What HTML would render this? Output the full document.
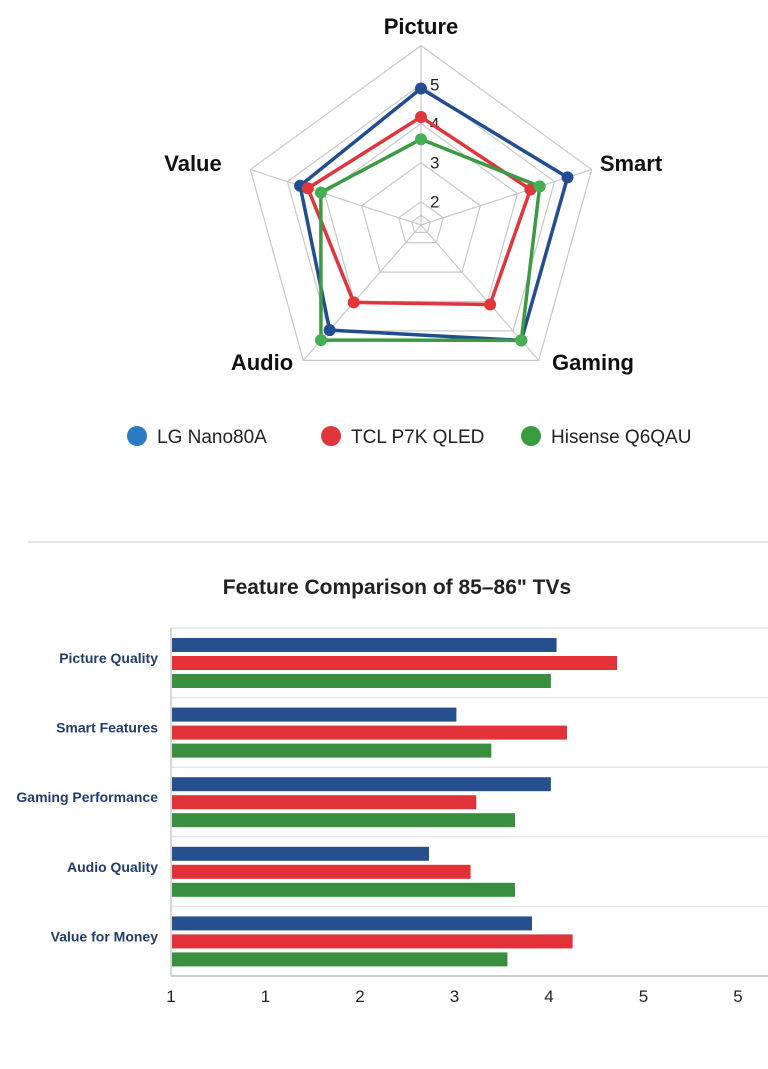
<!DOCTYPE html>
<html><head><meta charset="utf-8">
<style>
html,body{margin:0;padding:0;background:#fff;}
body{width:768px;height:1069px;overflow:hidden;font-family:"Liberation Sans","DejaVu Sans",sans-serif;}
svg{position:absolute;left:0;top:0;}
</style></head>
<body>
<svg id="chart" width="768" height="1069" viewBox="0 0 768 1069" xmlns="http://www.w3.org/2000/svg"></svg>
<script>
// ---------- Radar data ----------
const radarAxes = ["Picture","Smart","Gaming","Audio","Value"];
const radarRingValues = [2,3,4,5,6];
const radarRingLabels = ["2","3","4","5",""];
const lgValues = [4.9,5.35,5.32,4.97,4.66];
const tclValues = [4.17,4.35,4.1,4.03,4.45];
const hisenseValues = [3.6,4.6,5.32,5.31,4.1];
const seriesNames = ["LG Nano80A","TCL P7K QLED","Hisense Q6QAU"];
// ---------- Bar data ----------
const barCategories = ["Picture Quality","Smart Features","Gaming Performance","Audio Quality","Value for Money"];
const barLG = [4.08,3.02,4.02,2.73,3.82];
const barTCL = [4.72,4.19,3.23,3.17,4.25];
const barHisense = [4.02,3.39,3.64,3.64,3.56];
const xTickValues = [0,1,2,3,4,5,6];
const xTickLabels = ["1","1","2","3","4","5","5"];

const NS="http://www.w3.org/2000/svg";
const svg=document.getElementById('chart');
function mk(tag,attrs,parent){const e=document.createElementNS(NS,tag);for(const k in attrs)e.setAttribute(k,attrs[k]);(parent||svg).appendChild(e);return e;}

// radar geometry
const cx=421,cy=225,kr=39,vmin=1.4;
const axisAngles=[-90,-18,49,131,198];
function rr(v){return (v-vmin)*kr;}
function ang(i){return axisAngles[i]*Math.PI/180;}
function pt(i,v){const r=rr(v);return [cx+r*Math.cos(ang(i)),cy+r*Math.sin(ang(i))];}

const grid=mk('g',{});


[1.65].concat(radarRingValues).forEach(v=>{
  const p=radarAxes.map((_,i)=>pt(i,v).join(',')).join(' ');
  const poly=mk('polygon',{points:p,fill:'none',stroke:'#c8c8c8','stroke-width':1.2},grid);
  
  
});
radarAxes.forEach((a,i)=>{
  const [x,y]=pt(i,6);
  const l=mk('line',{x1:cx,y1:cy,x2:x,y2:y,stroke:'#c8c8c8','stroke-width':1.2},grid);
  
  
});
radarRingValues.forEach((v,i)=>{
  if(!radarRingLabels[i])return;
  const t=mk('text',{x:cx+9,y:cy-rr(v)+6,'font-size':17,fill:'#222'});
  t.textContent=radarRingLabels[i];
  
  
});
const axisLabelPos=[[421,34,'middle'],[631,171,'middle'],[593,370,'middle'],[262,370,'middle'],[193,171,'middle']];
radarAxes.forEach((a,i)=>{
  const t=mk('text',{x:axisLabelPos[i][0],y:axisLabelPos[i][1],'text-anchor':axisLabelPos[i][2],'font-size':22,'font-weight':'bold',fill:'#111'});
  t.textContent=a;
  
  
});
const radarSeries=[[lgValues,'#234d91','#234d91'],[tclValues,'#e0353b','#e0353b'],[hisenseValues,'#3c9a44','#45b052']];
radarSeries.forEach((s,si)=>{
  const g=mk('g',{});
  
  
  const p=s[0].map((v,i)=>pt(i,v).join(',')).join(' ');
  mk('polygon',{points:p,fill:'none',stroke:s[1],'stroke-width':3.5,'stroke-linejoin':'round'},g);
  s[0].forEach((v,i)=>{const [x,y]=pt(i,v);
    const c=mk('circle',{cx:x,cy:y,r:6,fill:s[2]},g);
    
    });
});
// legend
const legCols=['#2a7bc4','#e0353b','#3a9a40'],legX=[137,331,531];
seriesNames.forEach((n,i)=>{
  const g=mk('g',{});
  
  
  mk('circle',{cx:legX[i],cy:436,r:10,fill:legCols[i]},g);
  const t=mk('text',{x:legX[i]+20,y:443,'font-size':19,fill:'#222'},g);t.textContent=n;
});
// divider
const dv=mk('line',{x1:28,y1:542,x2:768,y2:542,stroke:'#d5d5d5','stroke-width':1.2});


const title=mk('text',{x:397,y:594,'text-anchor':'middle','font-size':21,'font-weight':'bold',fill:'#222'});
title.textContent='Feature Comparison of 85–86" TVs';



// bar chart
const x0=171,kx=94.5,plotTop=628,plotBottom=976,band=(plotBottom-plotTop)/barCategories.length;
function xs(v){return x0+v*kx;}
for(let i=0;i<=barCategories.length;i++){
  const y=plotTop+i*band;
  const l=mk('line',{x1:x0,y1:y,x2:768,y2:y,stroke:i==barCategories.length?'#bbb':'#e6e6e6','stroke-width':1.5});
  
  
}
const ya=mk('line',{x1:x0,y1:plotTop,x2:x0,y2:plotBottom,stroke:'#ccc','stroke-width':1.5});


const barSeries=[[barLG,'#264f8e'],[barTCL,'#e03238'],[barHisense,'#3a8f3e']];
barCategories.forEach((c,ci)=>{
  const gy=plotTop+ci*band+10;
  const t=mk('text',{x:158,y:gy+25,'text-anchor':'end','font-size':14,'font-weight':'bold',fill:'#1f3d6e'});
  t.textContent=c;
  
  
  barSeries.forEach((s,si)=>{
    const r=mk('rect',{x:x0+1,y:gy+si*18,width:xs(s[0][ci])-x0-1,height:14,fill:s[1]});
    
    
  });
});
xTickValues.forEach((v,i)=>{
  const t=mk('text',{x:xs(v),y:1002,'text-anchor':'middle','font-size':17,fill:'#222'});
  t.textContent=xTickLabels[i];
  
  
});
</script>
</body></html>
